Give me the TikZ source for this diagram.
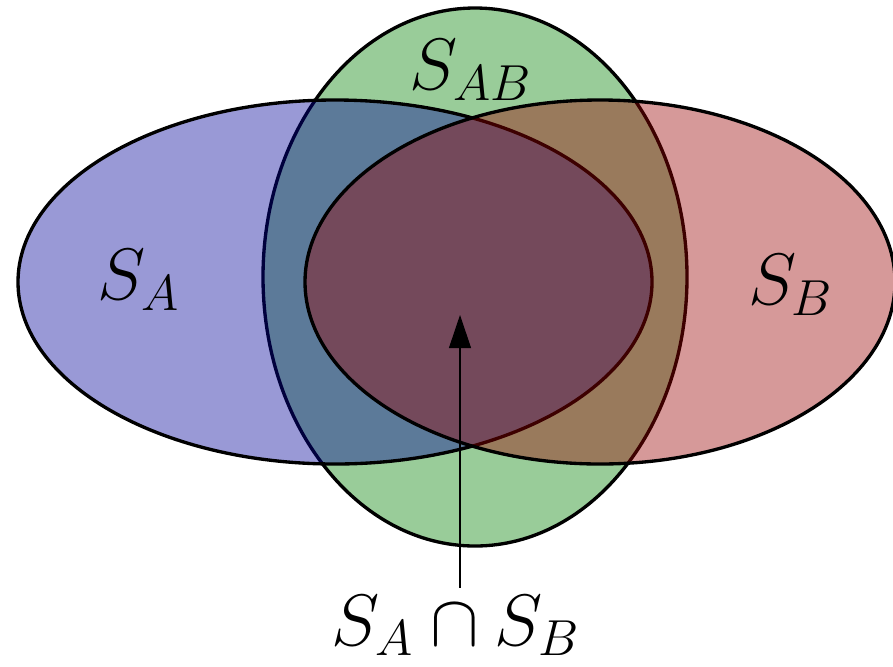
\documentclass[tikz,border=0pt]{standalone}
\usepackage{amsmath,amssymb}
\usepackage{xcolor}
\usepackage{tikz}
\usetikzlibrary{arrows.meta}
\tikzset{
  setfill/.style={draw,line width=0.95pt,fill opacity=0.4},
  lbl/.style={font=\huge,inner sep=0pt},
  arr/.style={-{Triangle[length=3.3mm,width=2.2mm]},line width=0.3pt},
}
\begin{document}
\begin{tikzpicture}
\useasboundingbox (0,0) rectangle (8.93,6.66);
% sets: green first, then blue, then red on top
\draw[setfill,fill=green!50!black] (4.75,3.89) ellipse [x radius=2.12,y radius=2.69];
\draw[setfill,fill=blue!60!black] (3.35,3.84) ellipse [x radius=3.17,y radius=1.82];
\draw[setfill,fill=red!60!black] (6.00,3.84) ellipse [x radius=2.95,y radius=1.82];
\node[lbl] (labA) at (1.39,3.86) {$S_A$};
\node[lbl] (labB) at (7.91,3.81) {$S_B$};
\node[lbl] (labAB) at (4.71,5.96) {$S_{AB}$};
% intersection
\coordinate (tip) at (4.60,3.51);
\node[lbl,anchor=base,inner ysep=0.7mm] (inter) at (4.56,0.21) {$S_A\cap S_B$};
\draw[arr] (inter.north -| tip) -- (tip);
\end{tikzpicture}
\end{document}
